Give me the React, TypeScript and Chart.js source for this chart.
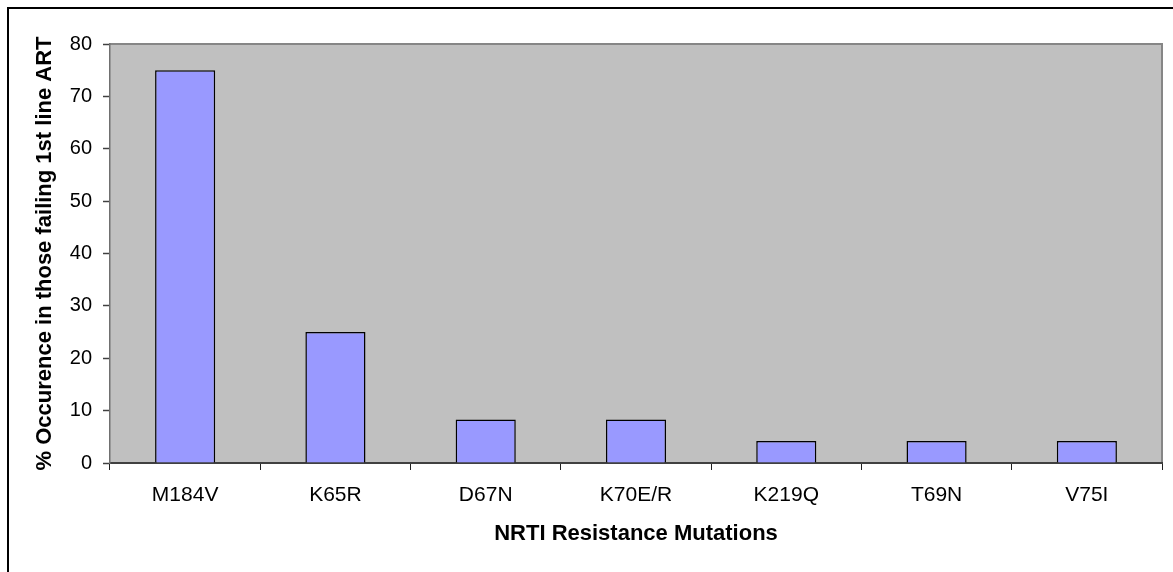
import React, { useEffect, useRef } from "react";
import { Chart, registerables } from "chart.js";

Chart.register(...registerables);

const categories = ["M184V", "K65R", "D67N", "K70E/R", "K219Q", "T69N", "V75I"];
const occurrence = [75, 25, 8.3, 8.3, 4.2, 4.2, 4.2];
const yTitle = "% Occurence in those failing 1st line ART";
const xTitle = "NRTI Resistance Mutations";

const W = 1173;
const H = 572;
const FONT = "'Liberation Sans', Arial, sans-serif";

const decor = {
  id: "decor",
  beforeDraw(chart: any) {
    const { ctx, chartArea: a } = chart;
    ctx.save();
    ctx.fillStyle = "#ffffff";
    ctx.fillRect(0, 0, chart.width, chart.height);
    ctx.fillStyle = "#C0C0C0";
    ctx.fillRect(a.left, a.top, a.right - a.left, a.bottom - a.top);
    ctx.strokeStyle = "#868686";
    ctx.lineWidth = 2;
    ctx.beginPath();
    ctx.moveTo(a.left, a.top);
    ctx.lineTo(a.right, a.top);
    ctx.lineTo(a.right, a.bottom);
    ctx.stroke();
    ctx.restore();
  },
  afterDraw(chart: any) {
    const { ctx } = chart;
    ctx.save();
    ctx.fillStyle = "#000000";
    ctx.fillRect(7, 7, chart.width - 7, 2);
    ctx.fillRect(7, 7, 2, chart.height - 7);
    ctx.restore();
  },
};

export default function App() {
  const ref = useRef<HTMLCanvasElement>(null);
  useEffect(() => {
    document.body.style.margin = "0";
    document.body.style.overflow = "hidden";
    const chart = new Chart(ref.current as HTMLCanvasElement, {
      type: "bar",
      data: {
        labels: categories,
        datasets: [
          {
            data: occurrence,
            backgroundColor: "#9999FF",
            borderColor: "#000000",
            borderWidth: 1.5,
            barPercentage: 0.4,
            categoryPercentage: 1,
          },
        ],
      },
      options: {
        responsive: false,
        animation: false,
        layout: { padding: { left: 0, top: 44, right: 11, bottom: 0 } },
        plugins: {
          legend: { display: false },
          tooltip: { enabled: false },
        },
        scales: {
          x: {
            afterFit: (s: any) => {
              s.height = 109;
            },
            grid: {
              display: true,
              offset: true,
              drawOnChartArea: false,
              drawTicks: true,
              tickLength: 7,
              tickColor: "#202020",
              tickWidth: 1,
            },
            border: { display: true, color: "#404040", width: 2 },
            ticks: {
              color: "#000000",
              padding: 13,
              font: { family: FONT, size: 21 },
              maxRotation: 0,
              autoSkip: false,
            },
            title: {
              display: true,
              text: xTitle,
              color: "#000000",
              font: { family: FONT, size: 22, weight: "bold" },
              padding: { top: 0, bottom: 25 },
            },
          },
          y: {
            min: 0,
            max: 80,
            afterFit: (s: any) => {
              s.width = 110;
            },
            grid: {
              display: true,
              drawOnChartArea: false,
              drawTicks: true,
              tickLength: 7,
              tickColor: "#404040",
              tickWidth: 1.5,
            },
            border: { display: true, color: "#707070", width: 1.5 },
            ticks: {
              stepSize: 10,
              color: "#000000",
              padding: 11,
              font: { family: FONT, size: 20 },
            },
            title: {
              display: true,
              text: yTitle,
              color: "#000000",
              font: { family: FONT, size: 22, weight: "bold" },
              padding: { top: 32, bottom: 0 },
            },
          },
        },
      },
      plugins: [decor],
    });
    return () => chart.destroy();
  }, []);
  return <canvas ref={ref} width={W} height={H} style={{ display: "block" }} />;
}
